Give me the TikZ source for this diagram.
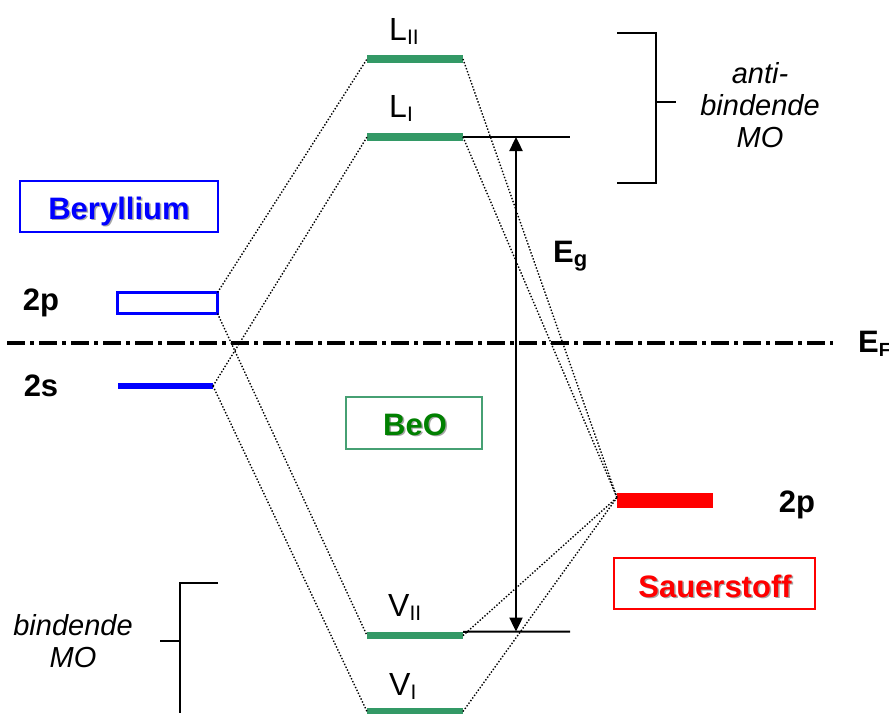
\documentclass[tikz,border=0pt]{standalone}
\usepackage{fontspec}
\setmainfont{Liberation Sans}
\usetikzlibrary{arrows.meta}
\definecolor{mogreen}{RGB}{51,153,102}
\definecolor{beogreen}{RGB}{0,128,0}
\definecolor{boxgreen}{RGB}{70,160,115}
\newcommand\subtext[1]{\raisebox{-4.5pt}{\fontsize{21}{21}\selectfont #1}}
\begin{document}
\begin{tikzpicture}[x=1pt,y=-1pt,
  lvl/.style={draw=none, fill=mogreen, minimum width=96pt, minimum height=7.5pt, inner sep=0, outer sep=0},
  corr/.style={line width=1.4pt, dash pattern=on 1.4pt off 1.8pt},
  lbl/.style={inner sep=0, anchor=base west, font=\fontsize{32}{36}\selectfont},
  boldlbl/.style={inner sep=0, anchor=base, font=\fontsize{31}{36}\selectfont\bfseries},
  ital/.style={inner sep=0, align=center, font=\fontsize{29}{32}\selectfont\itshape},
  brk/.style={line width=2pt},
  framebox/.style={line width=2pt, inner sep=0, outer sep=0},
  shadowtxt/.style={boldlbl, text=black!35},
  efline/.style={line width=3.2pt, dash pattern=on 18pt off 5pt on 4pt off 5pt},
  gaparrow/.style={line width=2.4pt, {Triangle[length=14pt,width=13pt]}-{Triangle[length=14pt,width=13pt]}}
]
\useasboundingbox (0,0) rectangle (889,713);

% ---- Beryllium side
\node[shadowtxt] at (120.5,220.5) {Beryllium};
\node[framebox, draw=blue, minimum width=198pt, minimum height=51pt] (beBox) at (119,206.5) {};
\node[boldlbl, text=blue] (beTxt) at (119,219) {Beryllium};

\node[draw=blue, line width=3pt, minimum width=100pt, minimum height=21pt, inner sep=0, outer sep=0] (Be2p) at (167.5,303) {};
\node[fill=blue, minimum width=95pt, minimum height=5.5pt, inner sep=0, outer sep=0] (Be2s) at (165.5,386) {};
\node[boldlbl] (lab2p) at (41,310) {2p};
\node[boldlbl] (lab2s) at (41,396) {2s};

% ---- MO levels
\node[lvl] (L2) at (415,59) {};
\node[lvl] (L1) at (415,137) {};
\node[lvl] (V2) at (415,635.5) {};
\node[lvl] (V1) at (415,711.5) {};
\node[lbl] (labL2) at (389,40) {L\subtext{II}};
\node[lbl] (labL1) at (389,117) {L\subtext{I}};
\node[lbl] (labV2) at (388,616) {V\subtext{II}};
\node[lbl] (labV1) at (389,695) {V\subtext{I}};

% ---- BeO box
\node[shadowtxt] at (416.5,436.5) {BeO};
\node[framebox, draw=boxgreen, minimum width=136pt, minimum height=52pt] (beoBox) at (414,423) {};
\node[boldlbl, text=beogreen] (beoTxt) at (415,435) {BeO};

% ---- Oxygen side
\node[fill=red, minimum width=96pt, minimum height=15pt, inner sep=0, outer sep=0] (O2p) at (665,500.5) {};
\node[boldlbl] (labO2p) at (797,512) {2p};
\node[shadowtxt] at (716.5,598.5) {Sauerstoff};
\node[framebox, draw=red, minimum width=201pt, minimum height=51pt] (oBox) at (714.5,583.5) {};
\node[boldlbl, text=red] (oTxt) at (715,597) {Sauerstoff};

% ---- correlation lines
\draw[corr] (Be2p.north east) -- (L2.west);
\draw[corr] (Be2p.south east) -- (V2.west);
\draw[corr] (Be2s.east) -- (L1.west);
\draw[corr] (Be2s.east) -- (V1.west);
\coordinate (Oc) at (617,497.5);
\draw[corr] (L2.east) -- (Oc);
\draw[corr] (L1.east) -- (Oc);
\draw[corr] (V2.east) -- (Oc);
\draw[corr] (V1.east) -- (Oc);

% ---- Fermi level
\coordinate (efL) at (7,343);
\coordinate (efR) at (833,343);
\draw[efline] (efL) -- (efR);
\node[boldlbl, anchor=base west] (labEF) at (858,352) {E\raisebox{-4pt}{\fontsize{19}{19}\selectfont F}};

% ---- band gap
\coordinate (gapTop) at (570,137);
\coordinate (gapBot) at (570,631.5);
\coordinate (aTop) at (516,137);
\coordinate (aBot) at (516,631.5);
\draw[brk] (L1.east) -- (gapTop);
\draw[brk] (V2.north east) -- (gapBot);
\draw[gaparrow] (aTop) -- (aBot);
\node[boldlbl, anchor=base west] (labEg) at (553,262) {E\raisebox{-4pt}{\fontsize{22}{22}\selectfont g}};

% ---- brackets
\coordinate (abT) at (617,33);
\coordinate (abB) at (617,183);
\coordinate (abM) at (676,102);
\draw[brk] (abT) -- (656,33) -- (656,183) -- (abB);
\draw[brk] (656,102) -- (abM);
\node[ital] (antiTxt) at (760,105) {anti-\\bindende\\MO};

\coordinate (bT) at (218,583);
\coordinate (bB) at (180,713);
\coordinate (bM) at (160,641);
\draw[brk] (bT) -- (180,583) -- (bB);
\draw[brk] (bM) -- (180,641);
\node[ital] (bindTxt) at (73,641) {bindende\\MO};
\end{tikzpicture}
\end{document}
